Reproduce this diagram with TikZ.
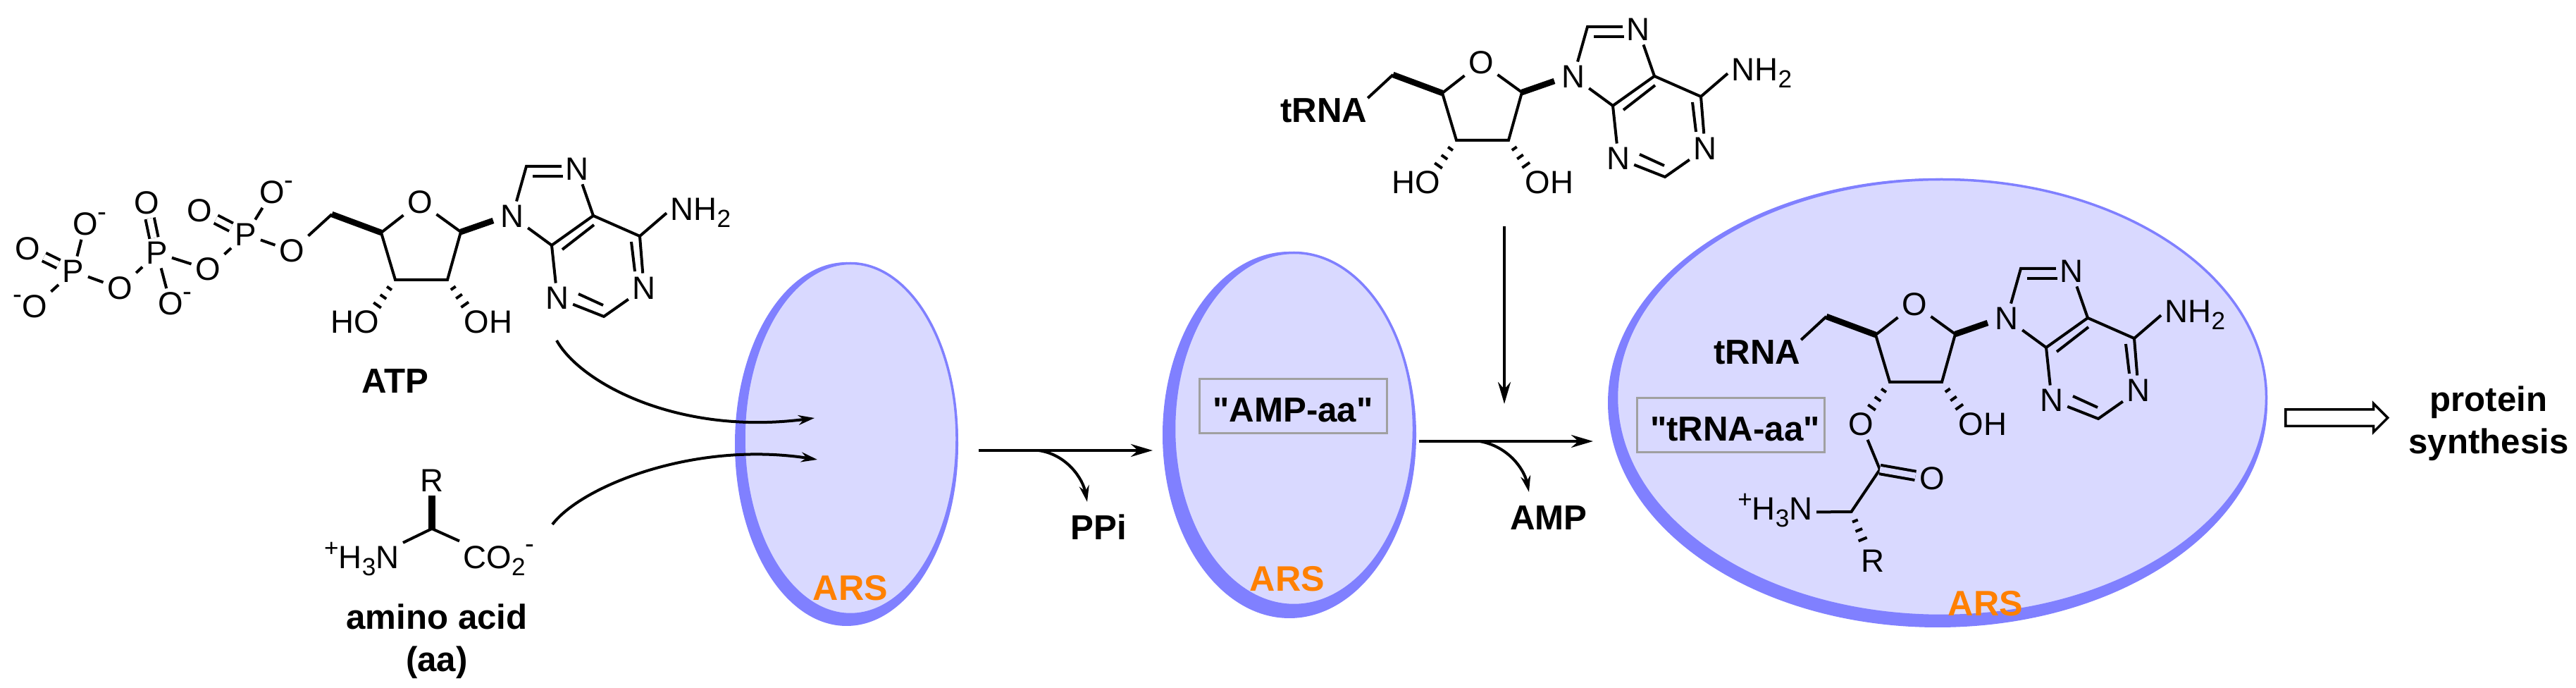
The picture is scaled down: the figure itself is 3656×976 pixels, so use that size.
\documentclass[tikz,border=0pt]{standalone}
\usepackage{fontspec}
\setmainfont{Liberation Sans}
\newfontfamily\quotefont{Liberation Sans}
\usetikzlibrary{shapes,arrows.meta,calc}
\definecolor{arsfill}{RGB}{217,217,255}
\definecolor{arsline}{RGB}{128,128,255}
\definecolor{arstext}{RGB}{255,128,0}
\definecolor{boxgray}{RGB}{160,160,160}

% subscript and charges, set by hand to sit like the drawing program's
\newcommand{\subs}[1]{\raisebox{-1mm}{\fontsize{10}{10}\selectfont #1}}
\newcommand{\negup}{\rlap{\raisebox{2mm}{\fontsize{11}{11}\selectfont -}}}
\newcommand{\neglow}{\llap{\raisebox{2mm}{\fontsize{11}{11}\selectfont -}}}
\newcommand{\plusup}{\smash{\raisebox{1.7mm}{\fontsize{10}{10}\selectfont +}}}
\newcommand{\dq}{{\quotefont"}}

\newcommand{\hashbond}[2]{\foreach \pos/\wid in {0.25/0.42,0.5/0.52,0.75/0.65}
    {\draw[bond] ($(#1)!\pos!(#2)!\wid mm!90:(#2)$) -- ($(#1)!\pos!(#2)!\wid mm!-90:(#2)$);}}

% sugar + adenine: #1 name prefix, #2 shift, #3 text on the 3' oxygen
\newcommand{\adenosine}[3]{
\begin{scope}[shift={#2}]
    \coordinate (#1c5) at (1977,106);
    \coordinate (#1c4) at (2047,132);
    \coordinate (#1c3) at (2067,199);
    \coordinate (#1c2) at (2141,199);
    \coordinate (#1c1) at (2160,131);
    \coordinate (#1w9) at (2206,115);
    \coordinate (#1h3) at (2033,247);
    \coordinate (#1h2) at (2174,246);
    \node[atom] (#1o4) at (2102,89) {O};
    \node[atom, anchor=east] (#1o3) at (2050,259) {#3};
    \node[atom, anchor=west] (#1o2) at (2159,259) {OH};
    \draw[bond] (#1o4) -- (#1c4) -- (#1c3) -- (#1c2) -- (#1c1) -- (#1o4);
    \draw[hvy] (#1c5) -- (#1c4);
    \draw[hvy] (#1c1) -- (#1w9);
    \hashbond{#1c3}{#1h3}
    \hashbond{#1c2}{#1h2}
    % purine
    \coordinate (#1c8) at (2253,38);
    \coordinate (#1c5b) at (2348,108);
    \coordinate (#1c4b) at (2289,150);
    \coordinate (#1c6) at (2414,137);
    \coordinate (#1c2b) at (2363,251);
    \node[atom] (#1n9) at (2233,109) {N};
    \node[atom] (#1n7) at (2325,42) {N};
    \node[atom] (#1n1) at (2420,211) {N};
    \node[atom] (#1n3) at (2297,225) {N};
    \node[atom, anchor=base west] (#1nh) at (2452,115) {NH\subs{2}};
    \draw[bond] (#1n9) -- (#1c8) -- (#1c8 -| #1n7.west);
    \draw[bond] (#1n7) -- (#1c5b) -- (#1c4b) -- (#1n3);
    \draw[bond] (#1n9) -- (#1c4b);
    \draw[bond] (#1c5b) -- (#1c6) -- (#1n1) -- (#1c2b) -- (#1n3);
    \draw[bond] (#1c6) -- (#1nh.west);
    % inner lines of the double bonds
    \draw[bond] (2262,52) -- (2305,52);
    \draw[bond] (2349,121) -- (2304,156);
    \draw[bond] (2402,145) -- (2407,187);
    \draw[bond] (2362,235) -- (2327,219);
\end{scope}}

\begin{document}
\begin{tikzpicture}[
    x=0.1mm, y=-0.1mm,
    atom/.style={inner sep=0.5mm, font=\fontsize{13}{15}\selectfont},
    tag/.style={inner sep=0.5mm, font=\fontsize{14}{17}\selectfont\bfseries, align=center},
    enz/.style={inner sep=0, font=\fontsize{14.3}{17}\selectfont\bfseries, text=arstext},
    arsback/.style={ellipse, fill=arsline, inner sep=0},
    ars/.style={ellipse, draw=arsline, fill=arsfill, line width=0.35mm, inner sep=0},
    cbox/.style={tag, draw=boxgray, line width=0.3mm, minimum width=26.6mm, minimum height=7.7mm, text height=4.4mm, text depth=0mm},
    bond/.style={line width=0.4mm},
    hvy/.style={line width=0.85mm},
    dbl/.style={bond, double, double distance=0.85mm},
    arr/.style={-{Stealth[length=3.1mm,width=1.8mm]}, line width=0.45mm},
    carr/.style={-{Stealth[length=2.3mm,width=1.4mm]}, line width=0.4mm},
    hollow/.style={single arrow, draw, line width=0.35mm, inner sep=1mm, minimum height=14.5mm, single arrow head extend=0.85mm},
]
\useasboundingbox (0,0) rectangle (3656,976);

% Enzyme blobs, the darker one behind gives the crescent
\node[arsback, minimum width=31.7mm, minimum height=51.6mm] (ars1s) at (1201.5,630) {};
\node[ars, minimum width=30.2mm, minimum height=49.8mm] (ars1) at (1207,622.5) {};
\node[arsback, minimum width=36mm, minimum height=52mm] (ars2s) at (1830,617) {};
\node[ars, minimum width=34mm, minimum height=50mm] (ars2) at (1836.5,608.5) {};
\node[arsback, minimum width=93.6mm, minimum height=63.7mm] (ars3s) at (2750,571.5) {};
\node[ars, minimum width=92.2mm, minimum height=61.9mm] (ars3) at (2755.5,564) {};
\node[enz] (arsl1) at (1207,834) {ARS};
\node[enz] (arsl2) at (1827,821) {ARS};
\node[enz] (arsl3) at (2818,856) {ARS};

% ATP
\adenosine{atp}{(-1506,198)}{HO}
\node[atom] (p1) at (104,385) {P};
\node[atom] (o1d) at (39,353) {O};
\node[atom] (o1t) at (121,318) {O\negup};
\node[atom] (o1b) at (49,435) {\neglow O};
\node[atom] (ob1) at (170,409) {O};
\node[atom] (p2) at (223,359) {P};
\node[atom] (o2d) at (208,288) {O};
\node[atom] (o2b) at (242,431) {O\negup};
\node[atom] (ob2) at (295,382) {O};
\node[atom] (p3) at (349,333) {P};
\node[atom] (o3d) at (283,299) {O};
\node[atom] (o3t) at (386,273) {O\negup};
\node[atom] (o5) at (414,356) {O};
\draw[dbl] (p1) -- (o1d);
\draw[dbl] (p2) -- (o2d);
\draw[dbl] (p3) -- (o3d);
\draw[bond] (o1t) -- (p1) -- (o1b);
\draw[bond] (p1) -- (ob1) -- (p2) -- (ob2) -- (p3) -- (o5) -- (atpc5);
\draw[bond] (p2) -- (o2b);
\draw[bond] (p3) -- (o3t);
\node[tag] (atp) at (561,541) {ATP};

% Amino acid
\coordinate (aaca) at (613,750);
\node[atom] (aar) at (613,682) {R};
\node[atom, anchor=base east] (aan) at (572,807) {\plusup H\subs{3}N};
\node[atom, anchor=base west] (aaco) at (652,807) {CO\subs{2}\raisebox{2.2mm}{\fontsize{11}{11}\selectfont -}};
\draw[line width=1mm] (aar) -- (aaca);
\draw[bond] (aan.north east) -- (aaca) -- (aaco.north west);
\node[tag] (aa) at (620,910) {amino acid\\(aa)};

% tRNA on top
\adenosine{trn}{(0,0)}{HO}
\node[tag, inner sep=0] (trna1) at (1879,157) {tRNA};
\draw[bond] (trna1.north east) -- (trnc5);

% Charged tRNA in the big blob
\adenosine{chg}{(615,343)}{O}
\node[tag, inner sep=0] (trna2) at (2494,500) {tRNA};
\draw[bond] (trna2.north east) -- (chgc5);
\coordinate (co) at (2668,666);
\coordinate (ca) at (2627.5,726);
\coordinate (rend) at (2649,778);
\node[atom] (coo) at (2742,679) {O};
\node[atom, anchor=base east] (can) at (2578,737.5) {\plusup H\subs{3}N};
\node[atom] (car) at (2658,796) {R};
\draw[bond] (chgo3) -- (co) -- (ca) -- (can);
\draw[dbl, double=arsfill] (co) -- (coo);
\hashbond{ca}{rend}

% Intermediates in boxes
\node[cbox] (ampaa) at (1835,576.5) {\dq AMP-aa\dq};
\node[cbox] (trnaaa) at (2456.5,603.5) {\hspace*{1.2mm}\dq tRNA-aa\dq};

% Arrows
\coordinate (atpout) at (790,483);
\coordinate (atpin) at (1156,593);
\coordinate (aaout) at (784,744);
\coordinate (aain) at (1160,652);
\draw[carr] (atpout) .. controls (825,545) and (965,618) .. (atpin);
\draw[carr] (aaout) .. controls (825,690) and (985,625) .. (aain);
\coordinate (s1) at (1389,639);
\coordinate (e1) at (1636,639);
\coordinate (b1) at (1474,639);
\coordinate (ppiend) at (1543,712);
\draw[arr] (s1) -- (e1);
\draw[carr] (b1) .. controls (1515,645) and (1537,680) .. (ppiend);
\node[tag] (ppi) at (1559,748) {PPi};
\coordinate (s2) at (2014,626);
\coordinate (e2) at (2261,626);
\coordinate (b2) at (2100,626);
\coordinate (ampend) at (2170,698);
\draw[arr] (s2) -- (e2);
\draw[carr] (b2) .. controls (2140,633) and (2163,665) .. (ampend);
\node[tag] (amp) at (2198,735) {AMP};
\coordinate (s3) at (2135,321);
\coordinate (e3) at (2135,573);
\draw[arr] (s3) -- (e3);

% Towards protein synthesis
\node[hollow, anchor=tail] (synth) at (3242,592.7) {};
\node[tag] (prot) at (3532,601) {protein\\synthesis};
\end{tikzpicture}
\end{document}
